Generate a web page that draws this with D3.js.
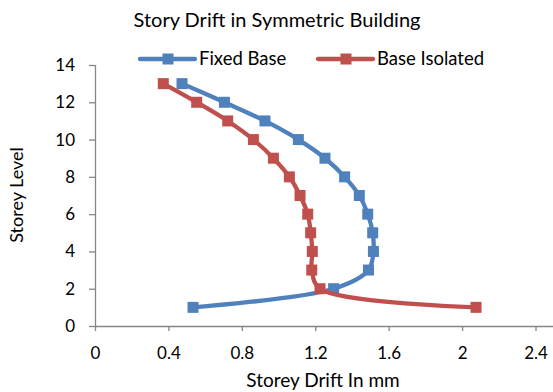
<!DOCTYPE html>
<html><head><meta charset="utf-8">
<script src="https://cdn.jsdelivr.net/npm/d3@7"></script>
<style>body{margin:0;background:#fff}svg{display:block}text{font-family:Lato,"Open Sans",sans-serif;fill:#000}</style>
</head><body><svg width="553" height="392"></svg>
<script>
const levels = [1,2,3,4,5,6,7,8,9,10,11,12,13];
const fixedBase = [0.534,1.30,1.49,1.517,1.513,1.486,1.44,1.36,1.253,1.108,0.926,0.705,0.474];
const baseIsolated = [2.076,1.226,1.181,1.184,1.175,1.159,1.117,1.059,0.972,0.863,0.723,0.554,0.372];
const xTicks = [0,0.4,0.8,1.2,1.6,2,2.4];
const yTicks = [0,2,4,6,8,10,12,14];
const seriesNames = ["Fixed Base","Base Isolated"];
const colors = ["#4F81BD","#C0504D"];

const svg = d3.select("svg");
const x = d3.scaleLinear().domain([0,2.5]).range([95, 95 + (535.5-95)/2.4*2.5]);
const y = d3.scaleLinear().domain([0,14]).range([326,65]);

const axisColor = "#868686";
const xAxis = svg.append("g").attr("transform","translate(0,326)")
  .call(d3.axisBottom(x).tickValues(xTicks).tickSize(5).tickFormat(d=>String(d)));
const yAxis = svg.append("g").attr("transform","translate(95,0)")
  .call(d3.axisLeft(y).tickValues(yTicks).tickSize(6).tickFormat(d=>String(d)));
[xAxis,yAxis].forEach(g=>{
  g.select(".domain").attr("stroke",axisColor).attr("stroke-width",1.3);
  g.selectAll(".tick line").attr("stroke",axisColor).attr("stroke-width",1.3);
  g.selectAll(".tick text").attr("font-family","Lato, sans-serif").attr("font-size",17).attr("fill","#000");
});
xAxis.select(".domain").attr("d",`M${x(0)},0.5H553`);
xAxis.selectAll(".tick text").attr("dy","1.45em");
yAxis.selectAll(".tick text").attr("x",-20);
yAxis.select(".domain").attr("d",`M0.5,${y(14)}V${y(0)}`);

const line = d3.line().x(d=>x(d[0])).y(d=>y(d[1])).curve(d3.curveCatmullRom.alpha(0.5));
[fixedBase, baseIsolated].forEach((vals,i)=>{
  const pts = vals.map((v,j)=>[v,levels[j]]);
  svg.append("path").attr("d",line(pts)).attr("fill","none")
    .attr("stroke",colors[i]).attr("stroke-width",4.3).attr("stroke-linejoin","round").attr("stroke-linecap","round");
  svg.append("g").selectAll("rect").data(pts).join("rect")
    .attr("x",d=>x(d[0])-5.5).attr("y",d=>y(d[1])-5.5).attr("width",11).attr("height",11)
    .attr("fill",colors[i]);
});

svg.append("text").attr("x",277).attr("y",27).attr("text-anchor","middle")
  .attr("font-size",20).text("Story Drift in Symmetric Building");

const legendX = [140,318];
seriesNames.forEach((n,i)=>{
  const g = svg.append("g").attr("transform",`translate(${legendX[i]},59)`);
  g.append("line").attr("x1",0).attr("x2",55).attr("stroke",colors[i]).attr("stroke-width",4.3).attr("stroke-linecap","round");
  g.append("rect").attr("x",22.5).attr("y",-5.5).attr("width",11).attr("height",11).attr("fill",colors[i]);
  g.append("text").attr("x",59).attr("y",6).attr("font-size",18.5).text(n);
});

svg.append("text").attr("x",323).attr("y",387).attr("text-anchor","middle").attr("font-size",19).text("Storey Drift In mm");
svg.append("text").attr("transform","translate(23,195) rotate(-90)").attr("text-anchor","middle").attr("font-size",18).text("Storey Level");
</script></body></html>
